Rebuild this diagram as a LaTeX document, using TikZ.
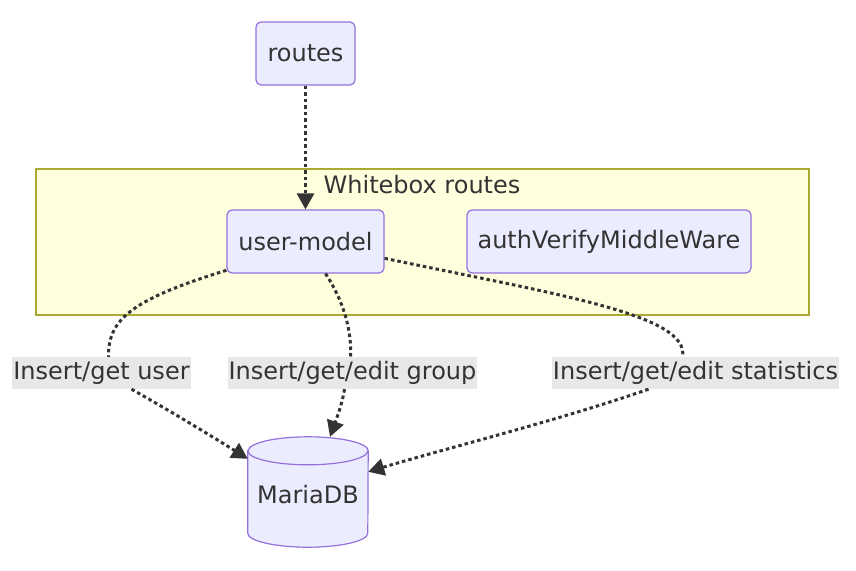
\documentclass[tikz,border=0pt]{standalone}
\usepackage{fontspec}
\setmainfont{DejaVu Sans}
\usepackage{tikz}
\usetikzlibrary{positioning,arrows.meta,calc}
\definecolor{nodefill}{HTML}{ECECFF}
\definecolor{nodeline}{HTML}{9370DB}
\definecolor{clusterfill}{HTML}{FFFFDE}
\definecolor{clusterline}{HTML}{AAAA33}
\definecolor{lblfill}{HTML}{E8E8E8}
\definecolor{ink1}{HTML}{333333}

\begin{document}
\begin{tikzpicture}[
  x=1pt, y=-1pt,
  font=\fontsize{24}{28}\selectfont, text=ink1,
  >={Triangle[length=16pt,width=17pt]},
  box/.style={draw=nodeline, fill=nodefill, line width=1.2pt,
              rounded corners=5pt, minimum height=63pt, inner sep=0pt},
  cluster/.style={draw=clusterline, fill=clusterfill, line width=1.2pt, inner sep=0pt},
  lbl/.style={fill=lblfill, inner xsep=1pt, inner ysep=0pt, minimum height=32pt},
  flow/.style={draw=ink1, line width=3pt, dash pattern=on 3.5pt off 3pt},
  dbline/.style={draw=nodeline, fill=nodefill, line width=1.2pt}
]
\useasboundingbox (0,0) rectangle (856,570);

% ===== whitebox cluster =====
\node[cluster, minimum width=773pt, minimum height=146pt] (wb) at (422.5,242) {};
\node (wbtitle) at (422,185) {Whitebox routes};

% ===== nodes =====
\node[box, minimum width=99pt] (routes) at (305.5,53.5) {routes};
\node[box, minimum width=157pt] (um) at (305.5,241.5) {user-model};
\node[box, minimum width=284pt] (auth) at (609,241.5) {authVerifyMiddleWare};

% database cylinder
\node[minimum width=120pt, minimum height=110pt, inner sep=0pt] (db) at (308,492) {};
\def\ry{14pt}
\draw[dbline] ([yshift=-\ry]db.north west) -- ([yshift=\ry]db.south west)
  arc[start angle=180, end angle=360, x radius=60pt, y radius=\ry]
  -- ([yshift=-\ry]db.north east)
  arc[start angle=0, end angle=180, x radius=60pt, y radius=\ry] -- cycle;
\draw[dbline, fill=none] ([yshift=-\ry]db.north west)
  arc[start angle=180, end angle=360, x radius=60pt, y radius=\ry];
\node (dbtext) at ([yshift=-3pt]db.center) {MariaDB};

% ===== edge labels =====
\node[lbl] (l1) at (101.5,373) {Insert/get user};
\node[lbl] (l2) at (352.5,373) {Insert/get/edit group};
\node[lbl] (l3) at (695.5,373) {Insert/get/edit statistics};

% ===== edges =====
\draw[flow, ->] (routes) -- (um);

\draw[flow] (um.-160) .. controls (130,300) and (108,320) .. ([xshift=7pt]l1.north);
\draw[flow, ->] ([xshift=30pt]l1.south) .. controls (165,408) and (205,432)
  .. ([yshift=-22pt]db.north west);

\draw[flow] ([xshift=20pt]um.south) .. controls (343,300) and (352,330) .. ([xshift=-2pt]l2.north);
\draw[flow, ->] ([xshift=-8pt]l2.south) .. controls (342,405) and (336,420)
  .. ([xshift=22pt]db.north);

\draw[flow] (um.-12) .. controls (560,295) and (690,315) .. ([xshift=-13pt]l3.north);
\draw[flow, ->] ([xshift=-47pt]l3.south) .. controls (560,420) and (440,450)
  .. ([yshift=-35pt]db.north east);
\end{tikzpicture}
\end{document}
